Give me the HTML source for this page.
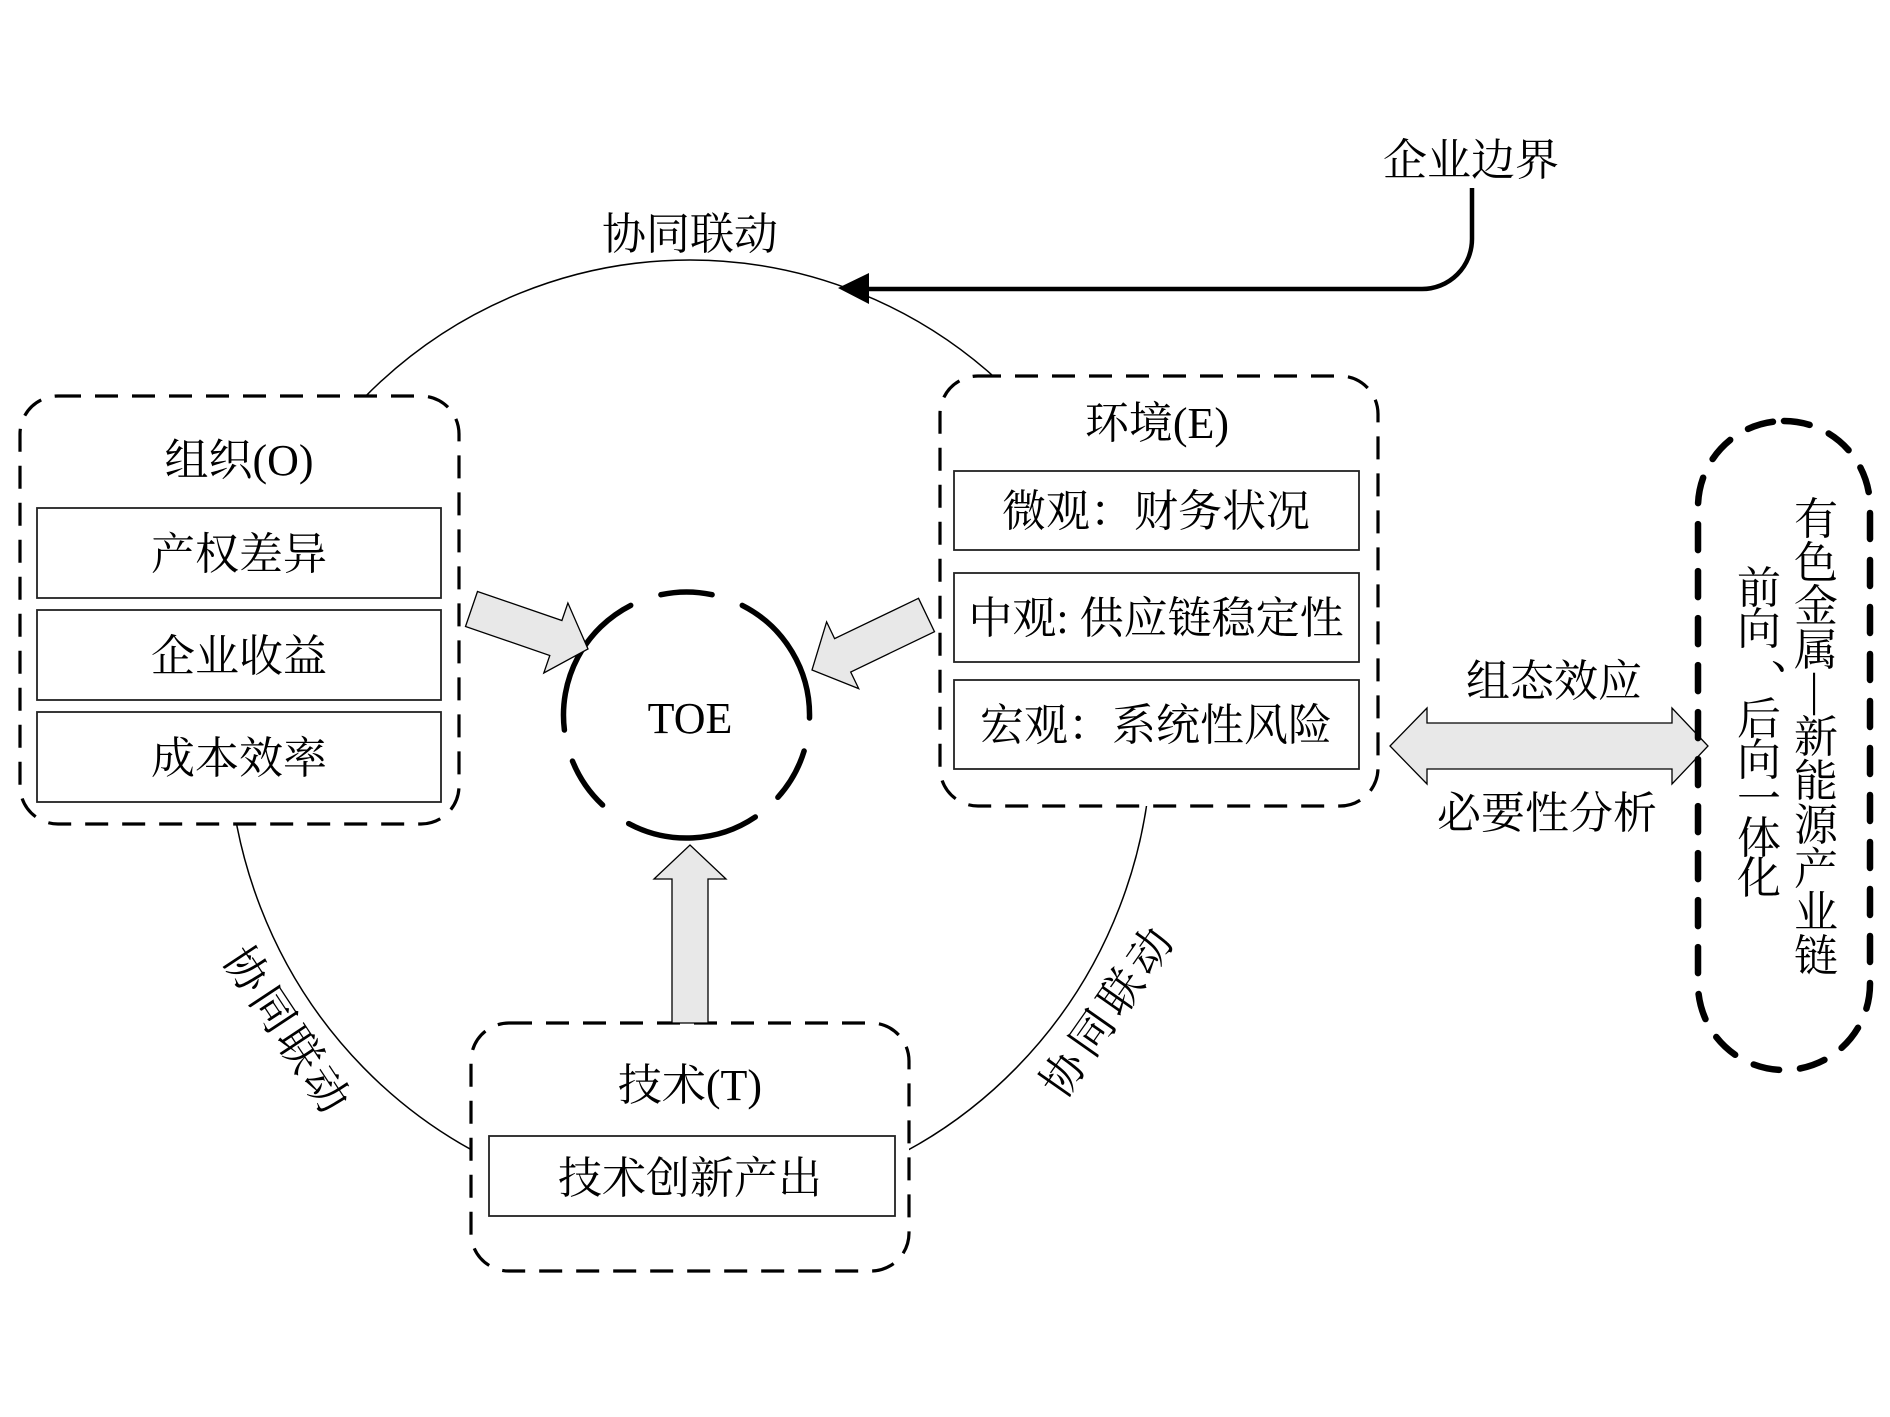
<!DOCTYPE html>
<html>
<head>
<meta charset="utf-8">
<style>
  html,body{margin:0;padding:0;background:#fff;}
  svg{display:block;}
  text{font-family:"Liberation Serif","Noto Serif CJK SC",serif;fill:#000;}
</style>
</head>
<body>
<svg width="1890" height="1417" viewBox="0 0 1890 1417" xmlns="http://www.w3.org/2000/svg">
  <rect width="1890" height="1417" fill="#fff"/>

  <!-- big linkage ellipse -->
  <ellipse cx="690" cy="733" rx="462" ry="473" fill="none" stroke="#000" stroke-width="1.5"/>

  <!-- enterprise boundary connector -->
  <path d="M1472,188 L1472,239 A50,50 0 0 1 1422,289 L866,289" fill="none" stroke="#000" stroke-width="4.5"/>
  <polygon points="838,288 869,273 869,304" fill="#000"/>

  <!-- dashed group boxes -->
  <g fill="#fff" stroke="#000" stroke-width="3.2" stroke-dasharray="23 14">
    <rect x="20" y="396" width="439" height="428" rx="38"/>
    <rect x="940" y="376" width="438" height="430" rx="38"/>
    <rect x="471" y="1023" width="438" height="248" rx="38"/>
  </g>

  <!-- inner boxes -->
  <g fill="none" stroke="#222" stroke-width="1.8">
    <rect x="37" y="508" width="404" height="90"/>
    <rect x="37" y="610" width="404" height="90"/>
    <rect x="37" y="712" width="404" height="90"/>
    <rect x="954" y="471" width="405" height="79"/>
    <rect x="954" y="573" width="405" height="89"/>
    <rect x="954" y="680" width="405" height="89"/>
    <rect x="489" y="1136" width="406" height="80"/>
  </g>

  <!-- TOE dashed circle -->
  <g fill="none" stroke="#000" stroke-width="5.5" stroke-linecap="round">
    <path d="M660.9,594.7 A123,123 0 0 1 712.1,594.7"/>
    <path d="M742.3,605.4 A123,123 0 0 1 809.5,718.0"/>
    <path d="M804.1,751.0 A123,123 0 0 1 777.9,797.3"/>
    <path d="M755.3,817.0 A123,123 0 0 1 628.7,823.6"/>
    <path d="M602.6,805.0 A123,123 0 0 1 572.5,761.1"/>
    <path d="M564.4,730.0 A123,123 0 0 1 630.7,605.4"/>
  </g>

  <!-- block arrows -->
  <g fill="#e8e8e8" stroke="#000" stroke-width="1.3" stroke-linejoin="miter">
    <polygon points="477.5,591.5 561.9,620.5 567.9,603.0 588,649 543.8,673.0 549.8,655.5 465.5,626.5"/>
    <polygon points="918.5,598.3 834.6,638.6 826.6,621.9 812,670 858.7,688.6 850.7,672.0 934.5,631.7"/>
    <polygon points="672,1023 672,879 654,879 690,845 726,879 708,879 708,1023"/>
    <polygon points="1390,746 1427,708 1427,723 1672,723 1672,708 1708,746 1672,784 1672,769 1427,769 1427,784"/>
  </g>

  <!-- right dashed pill -->
  <rect x="1698" y="421" width="172" height="649" rx="86" fill="none" stroke="#000" stroke-width="6.5" stroke-dasharray="26 21" stroke-linecap="round"/>

  <!-- texts -->
  <g font-size="44" text-anchor="middle">
    <text x="1471" y="175">企业边界</text>
    <text x="690" y="249">协同联动</text>

    <text x="239" y="475">组织(O)</text>
    <text x="239" y="569">产权差异</text>
    <text x="239" y="671">企业收益</text>
    <text x="239" y="773">成本效率</text>

    <text x="1157" y="438">环境(E)</text>
    <text x="1156" y="526">微观：财务状况</text>
    <text x="1156" y="633">中观: 供应链稳定性</text>
    <text x="1156" y="740">宏观：系统性风险</text>

    <text x="690" y="733">TOE</text>

    <text x="690" y="1100">技术(T)</text>
    <text x="690" y="1193">技术创新产出</text>

    <text x="1554" y="696">组态效应</text>
    <text x="1547" y="828">必要性分析</text>

    <!-- rotated labels -->
    <text transform="translate(287,1029) rotate(56.5)" x="0" y="16" textLength="188" lengthAdjust="spacing">协同联动</text>
    <text transform="translate(1106,1012) rotate(-55)" x="0" y="16" textLength="194" lengthAdjust="spacing">协同联动</text>

    <!-- vertical right column -->
    <text x="1816" y="534">有</text>
    <text x="1816" y="578">色</text>
    <text x="1816" y="621">金</text>
    <text x="1816" y="665">属</text>
    <text transform="translate(1804,694) rotate(90)" x="0" y="0" font-size="42">—</text>
    <text x="1816" y="752">新</text>
    <text x="1816" y="796">能</text>
    <text x="1816" y="840">源</text>
    <text x="1816" y="884">产</text>
    <text x="1816" y="927">业</text>
    <text x="1816" y="971">链</text>

    <!-- vertical left column -->
    <text x="1759" y="603">前</text>
    <text x="1759" y="644">向</text>
    <text x="1759" y="734">后</text>
    <text x="1759" y="775">向</text>
    <text x="1759" y="814">一</text>
    <text x="1759" y="853">体</text>
    <text x="1759" y="893">化</text>
  </g>
  <text x="1771" y="668" font-size="44">、</text>
</svg>
</body>
</html>
